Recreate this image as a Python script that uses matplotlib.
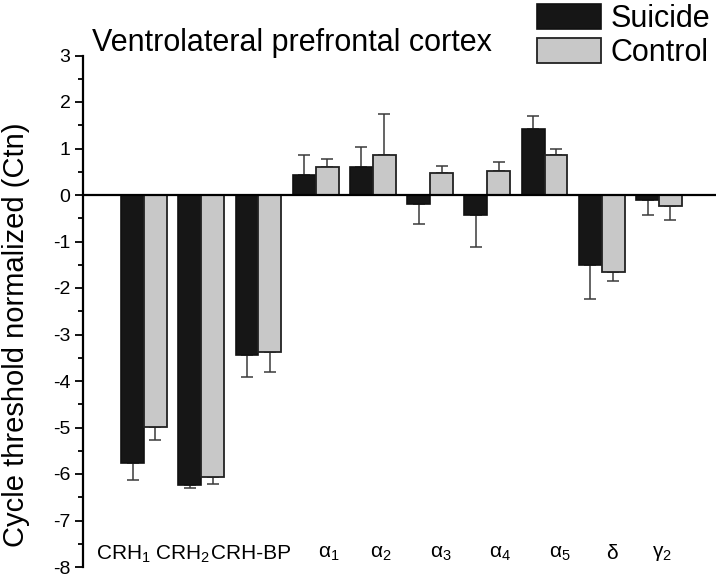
import numpy as np
import matplotlib
matplotlib.use("Agg")
import matplotlib.pyplot as plt
from matplotlib import font_manager
from matplotlib.ticker import MultipleLocator

# ---------------- data ----------------
categories = ["CRH$_1$", "CRH$_2$", "CRH-BP", "α$_1$", "α$_2$", "α$_3$",
              "α$_4$", "α$_5$", "δ", "γ$_2$"]
suicide = [-5.77, -6.24, -3.44, 0.43, 0.60, -0.19, -0.43, 1.41, -1.51, -0.10]
suicide_err = [0.35, 0.06, 0.47, 0.42, 0.43, 0.43, 0.68, 0.28, 0.72, 0.34]
control = [-4.98, -6.06, -3.38, 0.60, 0.85, 0.48, 0.52, 0.85, -1.65, -0.24]
control_err = [0.28, 0.16, 0.43, 0.17, 0.89, 0.15, 0.19, 0.13, 0.20, 0.30]
series_names = ["Suicide", "Control"]
y_ticks = list(range(-8, 4))

# layout (label offsets relative to group centre, in group units)
label_offsets = [-0.36, -0.33, -0.13, 0.23, 0.14, 0.19, 0.22, 0.26, 0.17, 0.05]

names = {f.name for f in font_manager.fontManager.ttflist}
FONT = "Liberation Sans" if "Liberation Sans" in names else "DejaVu Sans"
plt.rcParams["font.family"] = [FONT, "DejaVu Sans"]
plt.rcParams["mathtext.fontset"] = "custom"
plt.rcParams["mathtext.rm"] = FONT
plt.rcParams["mathtext.it"] = FONT
plt.rcParams["mathtext.default"] = "regular"

fig = plt.figure(figsize=(7.2, 5.82), dpi=100)
ax = fig.add_axes([83 / 720, 15 / 582, 633 / 720, 511.5 / 582])

x = np.arange(len(categories))
w = 0.40
s_col, c_col = "#161616", "#c8c8c8"

b1 = ax.bar(x - w / 2, suicide, w, color=s_col, edgecolor="#111111", linewidth=1.2,
            zorder=3, label=series_names[0])
b2 = ax.bar(x + w / 2, control, w, color=c_col, edgecolor="#222222", linewidth=1.3,
            zorder=3, label=series_names[1])

def one_sided(vals, errs):
    vals = np.asarray(vals); errs = np.asarray(errs)
    lower = np.where(vals < 0, errs, 0)
    upper = np.where(vals >= 0, errs, 0)
    return [lower, upper]

ax.errorbar(x - w / 2, suicide, yerr=one_sided(suicide, suicide_err), fmt="none",
            ecolor="#3a3a3a", elinewidth=1.1, capsize=4, capthick=1.1, zorder=2)
ax.errorbar(x + w / 2, control, yerr=one_sided(control, control_err), fmt="none",
            ecolor="#3a3a3a", elinewidth=1.1, capsize=4, capthick=1.1, zorder=2)

ax.axhline(0, color="black", linewidth=1.6, zorder=4)

ax.set_xlim(-1.066, 9.997)
ax.set_ylim(-8, 3)
ax.set_yticks(y_ticks)
ax.set_yticklabels([str(t) for t in y_ticks])
ax.yaxis.set_minor_locator(MultipleLocator(0.5))
ax.tick_params(axis="y", which="major", direction="out", length=6, width=1.3,
               labelsize=14, pad=3)
ax.tick_params(axis="y", which="minor", direction="out", length=3.5, width=1.3)
ax.set_xticks([])
for side in ["top", "right", "bottom"]:
    ax.spines[side].set_visible(False)
ax.spines["left"].set_linewidth(1.6)

for xi, lab, off in zip(x, categories, label_offsets):
    ax.text(xi + off, -7.5, lab, ha="center", va="top", fontsize=15)

ax.set_ylabel("Cycle threshold normalized (Ctn)", fontsize=21)
ax.yaxis.set_label_coords(-0.084, 0.454)

fig.text(92 / 720, 1 - 51 / 582, "Ventrolateral prefrontal cortex", fontsize=22,
         ha="left", va="baseline")

leg = fig.legend(handles=[b1, b2], labels=series_names, loc="upper left",
                 bbox_to_anchor=(537 / 720, 1 - 4 / 582), frameon=False,
                 fontsize=22, handlelength=2.1, handleheight=0.9,
                 handletextpad=0.3, labelspacing=0.12, borderpad=0,
                 borderaxespad=0)

fig.savefig("out.png", dpi=100)
